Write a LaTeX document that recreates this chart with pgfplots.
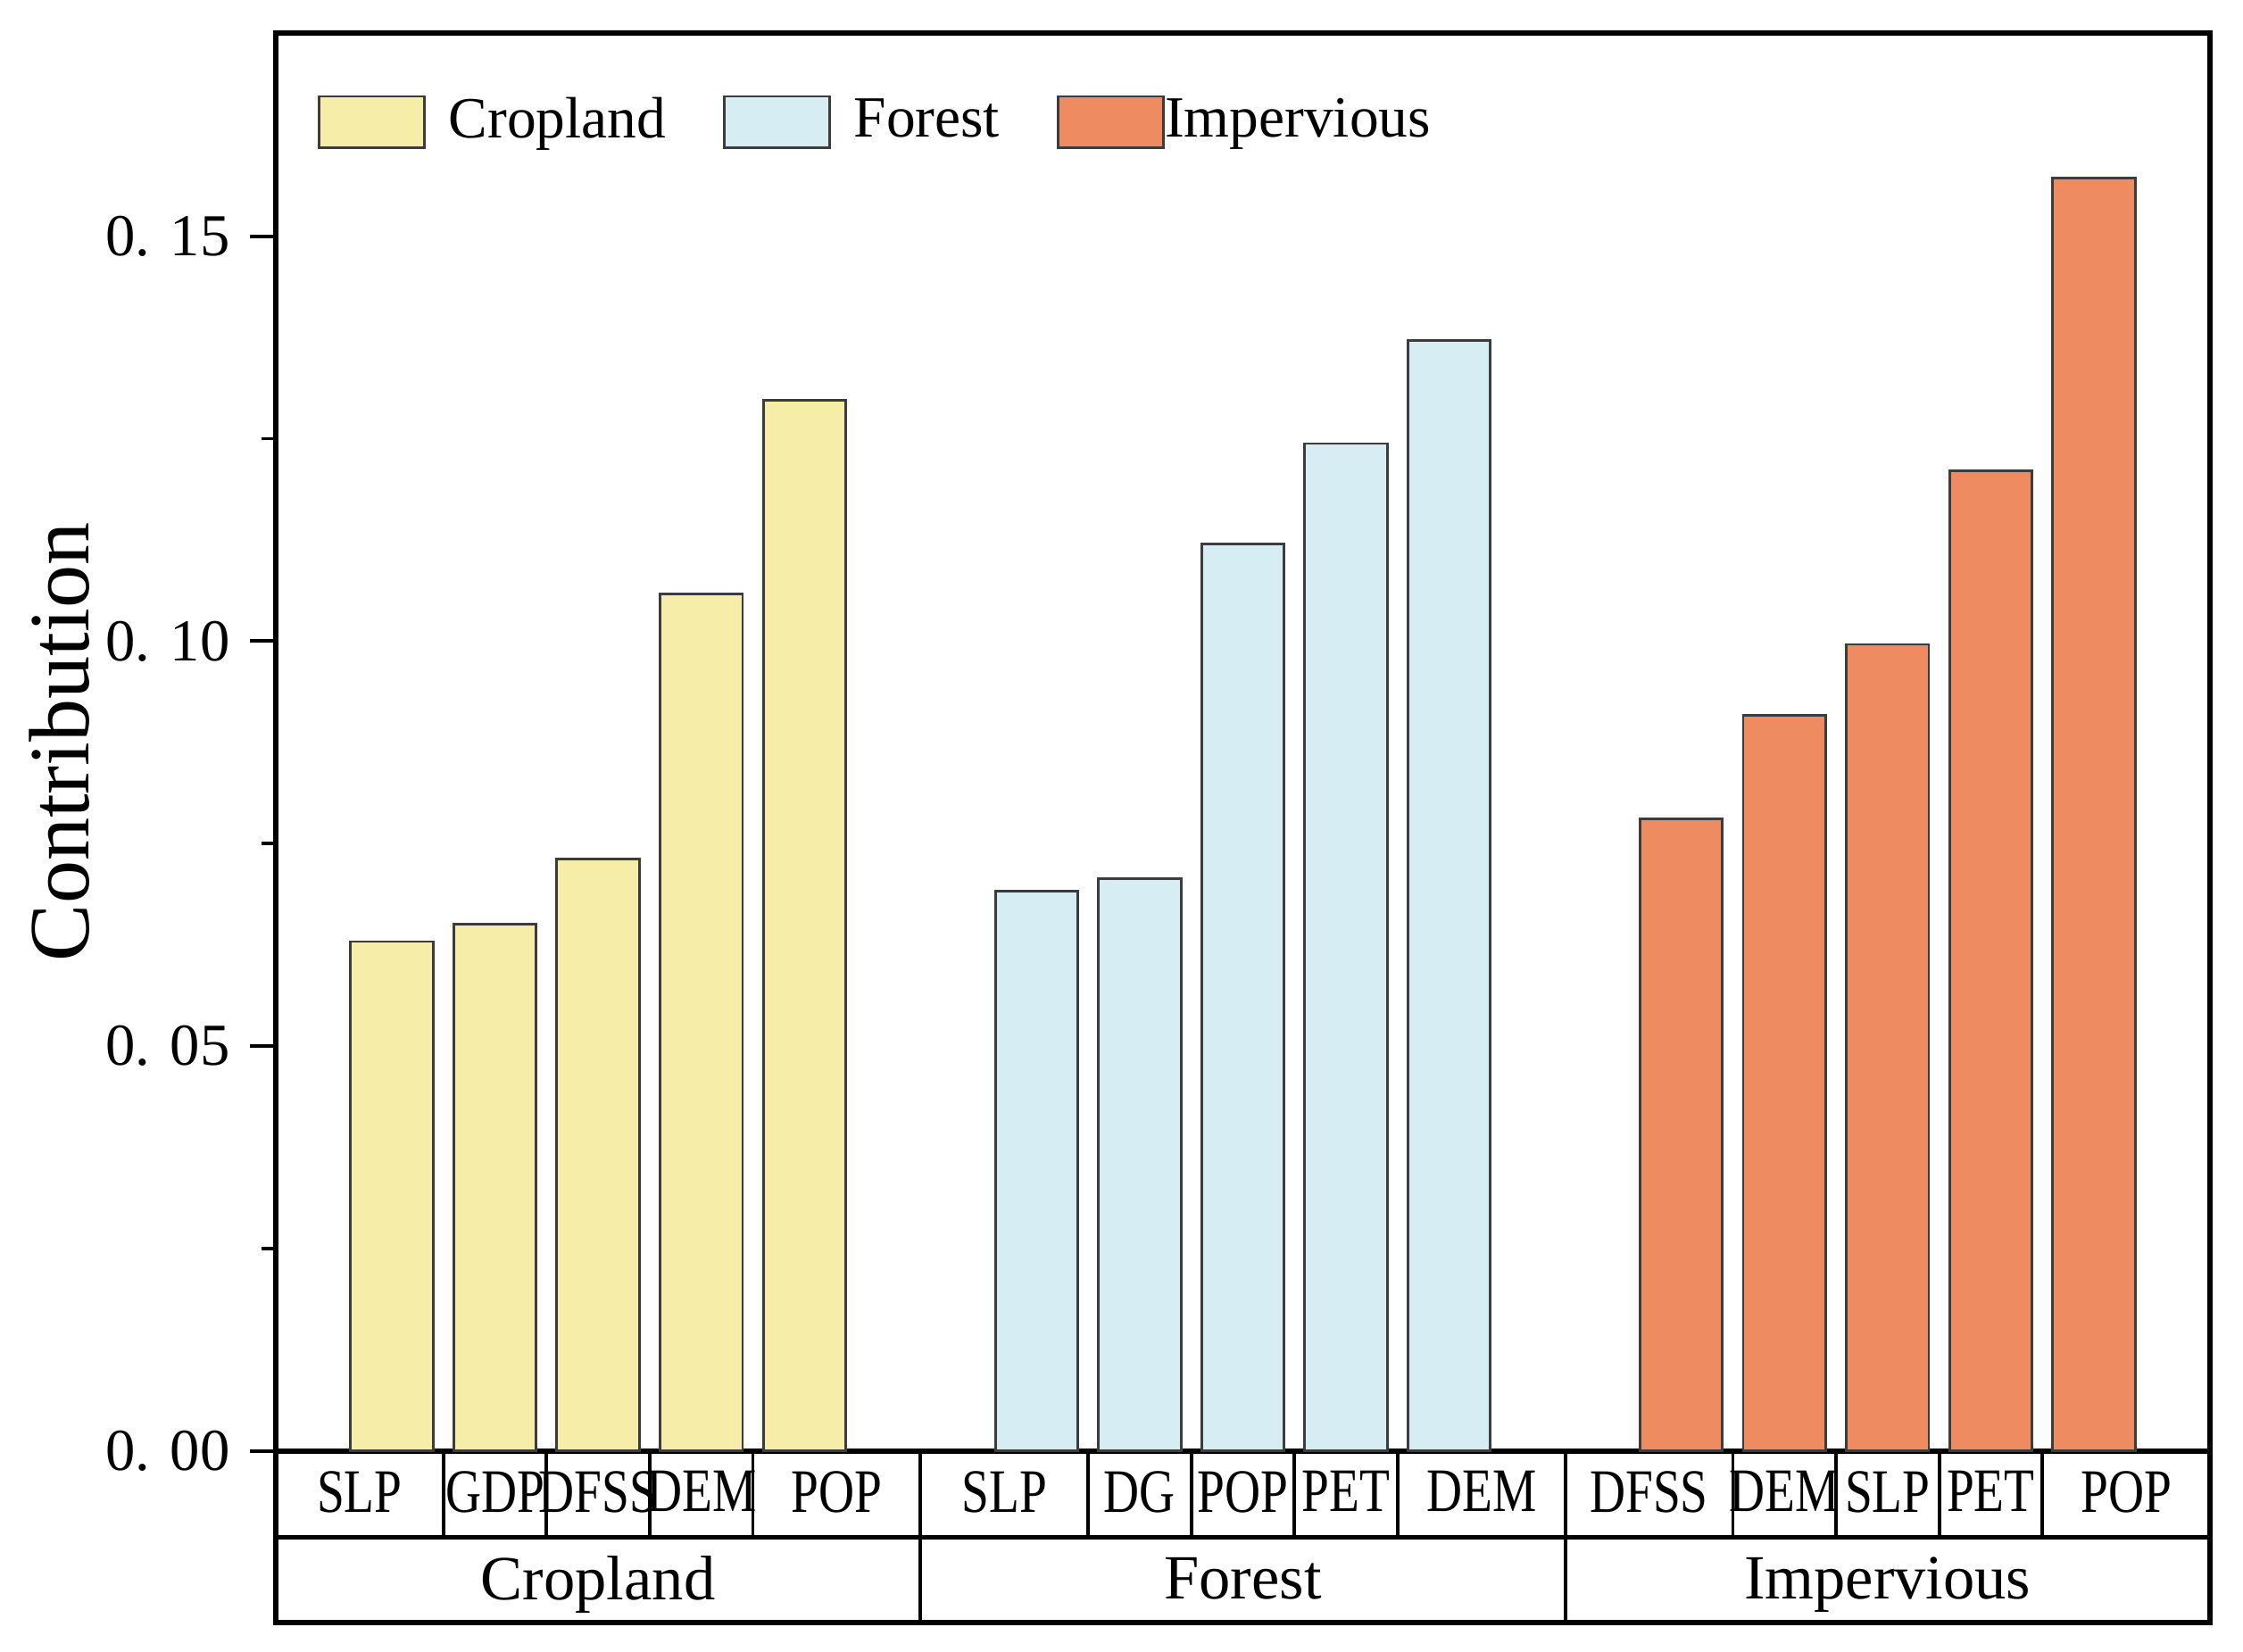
\documentclass[border=0pt]{standalone}
\usepackage{fontspec}
\setmainfont{Liberation Serif}
\newfontfamily\condensed{Liberation Serif}[FakeStretch=0.8]
\usepackage{pgfplots}
\pgfplotsset{compat=1.18}

\definecolor{cropc}{RGB}{245,237,168}
\definecolor{forestc}{RGB}{214,237,243}
\definecolor{impc}{RGB}{238,139,96}
\definecolor{edgec}{RGB}{60,60,60}

% row heights of the label table below the bars (in data units)
\def\rowA{-0.01069}
\def\rowB{-0.02116}

\begin{document}
\begin{tikzpicture}
\begin{axis}[
  width=338pt, height=247.8pt, scale only axis,
  xmin=-1.125, xmax=17.625, ymin=0, ymax=0.1751,
  clip=false,
  axis line style={line width=0.9pt},
  ytick={0,0.05,0.10,0.15},
  yticklabels={0. 00,0. 05,0. 10,0. 15},
  minor y tick num=1,
  ytick pos=left, xtick pos=bottom,
  tick align=outside,
  major tick length=4.5pt, minor tick length=2.5pt,
  tick style={line width=0.6pt, black},
  yticklabel style={font=\fontsize{10.4}{10.4}\selectfont},
  xtick={-0.3125,1,2,3,4.3125,5.9375,7.25,8.25,9.25,10.5625,12.1875,13.5,14.5,15.5,16.8125},
  xticklabels={SLP,GDP,DFSS,DEM,POP,SLP,DG,POP,PET,DEM,DFSS,DEM,SLP,PET,POP},
  x tick style={draw=none},
  xticklabel style={font=\condensed\fontsize{10.8}{10.8}\selectfont, anchor=center, text depth=0pt, yshift=-2.6pt},
  extra x ticks={2,8.25,14.5},
  extra x tick labels={Cropland,Forest,Impervious},
  extra x tick style={xticklabel style={font=\fontsize{11}{11}\selectfont, yshift=-15.1pt}},
  ylabel={Contribution},
  every axis y label/.style={at={(axis description cs:-0.1117,0.5)}, rotate=90, anchor=center, font=\fontsize{15}{15}\selectfont},
  ybar, bar width=0.8, bar shift=0pt,
  legend columns=3,
  legend style={at={(0.0212,0.9633)}, anchor=north west, draw=none, fill=none,
    inner sep=0pt, font=\fontsize{10.2}{10.2}\selectfont,
    /tikz/every odd column/.append style={column sep=2pt},
    /tikz/every even column/.append style={column sep=8pt}},
  legend image code/.code={\draw[#1] (0pt,-4.5pt) rectangle (18.4pt,4.5pt);},
]
\addplot[fill=cropc, draw=edgec, line width=0.45pt] coordinates {
(0,0.0629) (1,0.0650) (2,0.0731) (3,0.1058) (4,0.1297)};
\addlegendentry{Cropland}
\addplot[fill=forestc, draw=edgec, line width=0.45pt] coordinates {
(6.25,0.0691) (7.25,0.0707) (8.25,0.1120) (9.25,0.1244) (10.25,0.1371)};
\addlegendentry{Forest}
\addplot[fill=impc, draw=edgec, line width=0.45pt] coordinates {
(12.5,0.0781) (13.5,0.0908) (14.5,0.0996) (15.5,0.1210) (16.5,0.1572)};
\addlegendentry{\hspace{-4pt}Impervious}

% label table frame
\draw[line width=0.9pt] (axis cs:-1.125,0) -- (axis cs:-1.125,\rowB) -- (axis cs:17.625,\rowB) -- (axis cs:17.625,0);
\draw[line width=0.8pt] (axis cs:-1.125,\rowA) -- (axis cs:17.625,\rowA);
\pgfplotsinvokeforeach{0.5,1.5,2.5,3.5,6.75,7.75,8.75,9.75,13,14,15,16}{
  \draw[line width=0.6pt] (axis cs:#1,0) -- (axis cs:#1,\rowA);
}
\pgfplotsinvokeforeach{5.125,11.375}{
  \draw[line width=0.6pt] (axis cs:#1,0) -- (axis cs:#1,\rowB);
}
% page margins
\path (rel axis cs:-0.1426,-0.1416) rectangle (rel axis cs:1.0171,1.0233);
\end{axis}
\end{tikzpicture}
\end{document}
